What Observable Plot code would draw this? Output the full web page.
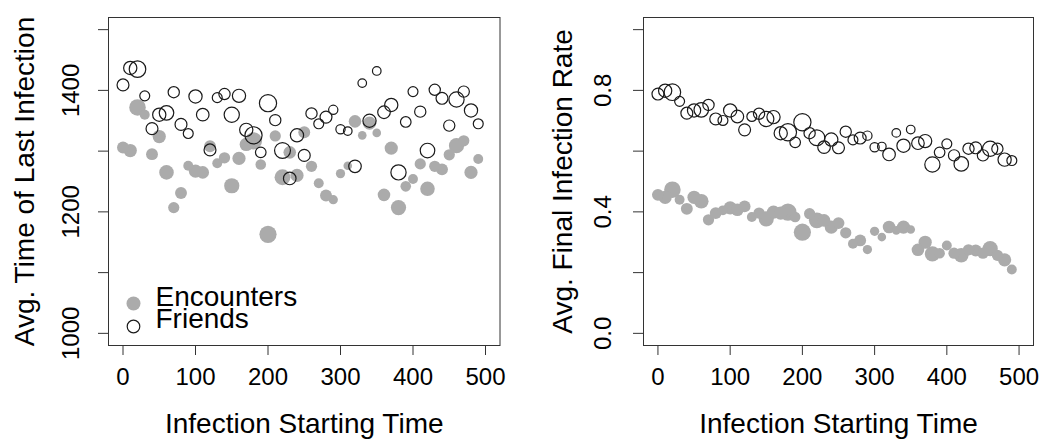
<!DOCTYPE html>
<html><head><meta charset="utf-8">
<script src="https://cdn.jsdelivr.net/npm/d3@7"></script>
<script src="https://cdn.jsdelivr.net/npm/@observablehq/plot@0.6"></script>
<style>
html,body{margin:0;padding:0;background:#fff;}
#wrap{display:flex;width:1047px;height:440px;overflow:hidden;}
</style></head><body><div id="wrap"></div>
<script>
const startTime = [0,10,20,30,40,50,60,70,80,90,100,110,120,130,140,150,160,170,180,190,200,210,220,230,240,250,260,270,280,290,300,310,320,330,340,350,360,370,380,390,400,410,420,430,440,450,460,470,480,490];
// relative point magnitude
const pointWeight = [18,20,25,15,18,20,22,17,18,15, 20,19,18,15,17,23,20,20,26,16, 26,17,24,19,20,18,17,15,18,14, 14,13,19,13,20,13,19,20,23,16, 15,17,22,17,18,17,23,17,20,15];
const lastInfFriends = [1409,1437,1435,1391,1337,1360,1363,1397,1344,1329, 1390,1360,1302,1388,1394,1360,1391,1335,1326,1298, 1379,1351,1301,1255,1326,1293,1362,1345,1356,1368, 1336,1333,1275,1412,1350,1432,1364,1376,1265,1348, 1398,1365,1301,1401,1387,1342,1385,1398,1367,1345];
const lastInfEncounters = [1306,1301,1372,1360,1295,1324,1265,1207,1231,1276, 1267,1265,1308,1280,1289,1243,1288,1311,1317,1278, 1163,1325,1257,1298,1260,1331,1275,1247,1227,1220, 1263,1276,1349,1326,1346,1330,1228,1305,1207,1242, 1254,1279,1238,1275,1270,1294,1309,1317,1265,1287];
const rateFriends = [.788,.799,.794,.764,.725,.734,.736,.752,.706,.701, .734,.714,.670,.714,.723,.706,.712,.659,.662,.629, .695,.659,.644,.613,.638,.611,.664,.637,.643,.651, .613,.615,.589,.660,.618,.671,.626,.633,.556,.596, .624,.586,.558,.608,.611,.586,.608,.608,.572,.569];
const rateEncounters = [.456,.448,.473,.440,.410,.448,.435,.374,.396,.405, .413,.407,.418,.383,.396,.377,.399,.396,.399,.383, .333,.394,.372,.372,.350,.363,.331,.295,.306,.276, .336,.317,.350,.339,.350,.342,.275,.300,.262,.264, .289,.264,.257,.275,.273,.264,.279,.257,.242,.210];
const xTicks = [0,100,200,300,400,500];
const leftYTicks = [1000,1100,1200,1300,1400,1500];
const leftYLabels = [1000,1200,1400];
const rightYTicks = [0,0.2,0.4,0.6,0.8,1.0];
const rightYLabels = [0,0.4,0.8];
const xTitle = "Infection Starting Time";
const leftYTitle = "Avg. Time of Last Infection";
const rightYTitle = "Avg. Final Infection Rate";
const legendLabels = ["Encounters","Friends"];

const GRAY = "#ababab", INK = "#1a1a1a";
const FONT = "'Liberation Sans', Arial, Helvetica, sans-serif";

function panel(o) {
  const enc = startTime.map((t,i)=>({t, v:o.enc[i], w:pointWeight[i]}));
  const fri = startTime.map((t,i)=>({t, v:o.fri[i], w:pointWeight[i]}));
  const marks = [
    Plot.dot(enc, {x:"t", y:"v", r:"w", fill:GRAY, stroke:"none"}),
    Plot.dot(fri, {x:"t", y:"v", r:"w", fill:"none", stroke:INK, strokeWidth:1.2}),
    Plot.frame({stroke:"#333", strokeWidth:1}),
    Plot.axisX({ticks:xTicks, tickSize:10, tickPadding:12, fontSize:24, label:null, stroke:"#333"}),
    Plot.axisY({ticks:o.yTicks, tickSize:10, tickFormat:()=>"", label:null, stroke:"#333"}),
    Plot.text(o.yLabels, {y:d=>d, text:o.yFormat, frameAnchor:"left", dx:o.labDx, rotate:-90, fontSize:24, textAnchor:"middle", lineAnchor:"middle"}),
    Plot.text([xTitle], {frameAnchor:"bottom", dy:87, fontSize:28, textAnchor:"middle"}),
    Plot.text([o.yTitle], {frameAnchor:"left", dx:o.titleDx, rotate:-90, fontSize:28, textAnchor:"middle", lineAnchor:"middle"})
  ];
  if (o.legend) {
    marks.push(
      Plot.dot([legendLabels[0]], {frameAnchor:"bottom-left", dx:25, dy:-42, r:7, fill:GRAY}),
      Plot.dot([legendLabels[1]], {frameAnchor:"bottom-left", dx:25, dy:-19, r:6.3, fill:"none", stroke:INK, strokeWidth:1.2}),
      Plot.text([legendLabels[0]], {frameAnchor:"bottom-left", dx:47, dy:-40, textAnchor:"start", fontSize:28}),
      Plot.text([legendLabels[1]], {frameAnchor:"bottom-left", dx:47, dy:-18, textAnchor:"start", fontSize:28})
    );
  }
  return Plot.plot({
    width:o.width, height:440,
    marginLeft:o.ml, marginRight:o.mr, marginTop:17, marginBottom:95,
    style:{fontFamily:FONT, color:"#000", background:"#fff", overflow:"visible"},
    x:{domain:[-20,520]},
    y:{domain:o.yDomain},
    r:{type:"linear", domain:[0,26], range:[0,8.6]},
    marks
  });
}

const wrap = document.getElementById("wrap");
wrap.appendChild(panel({width:523, ml:108, mr:23.5, yDomain:[980,1520], yTicks:leftYTicks, yLabels:leftYLabels,
  yFormat:d=>String(d), yTitle:leftYTitle, labDx:-37, titleDx:-83, enc:lastInfEncounters, fri:lastInfFriends, legend:true}));
wrap.appendChild(panel({width:524, ml:120, mr:14, yDomain:[-0.04,1.04], yTicks:rightYTicks, yLabels:rightYLabels,
  yFormat:d=>d.toFixed(1), yTitle:rightYTitle, labDx:-40, titleDx:-80, enc:rateEncounters, fri:rateFriends, legend:false}));
</script></body></html>
